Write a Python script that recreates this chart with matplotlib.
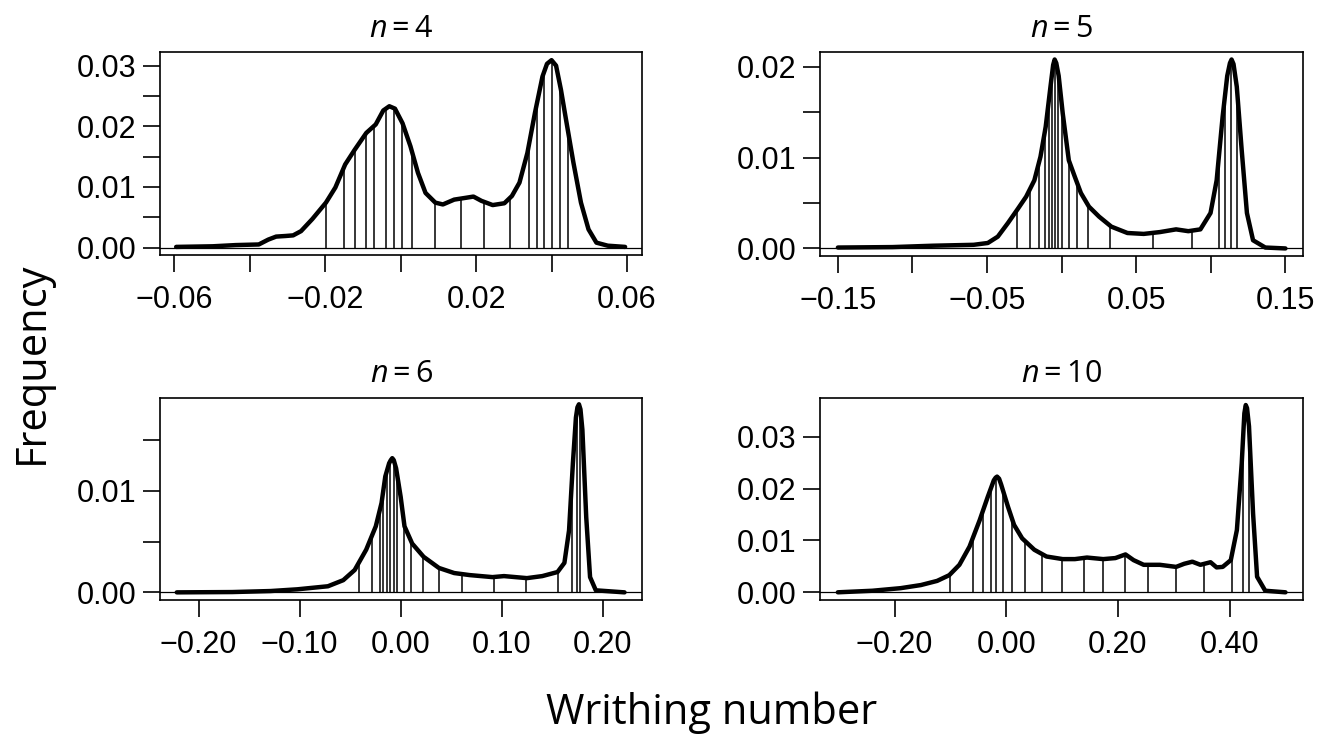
import numpy as np
import matplotlib
matplotlib.use("Agg")
import matplotlib.pyplot as plt

plt.rcParams["mathtext.fontset"] = "custom"
plt.rcParams["mathtext.rm"] = "Open Sans"
plt.rcParams["mathtext.it"] = "Open Sans:italic"

# --- Data ---

# n = 4
n4_x = [-0.0595, -0.0498, -0.0437, -0.0376, -0.0351, -0.0330, -0.0305, -0.0285,
        -0.0264, -0.0234, -0.0198, -0.0173, -0.0147, -0.0122, -0.0091, -0.0066,
        -0.0046, -0.0030, -0.0015, 0.0005, 0.0026, 0.0046, 0.0066, 0.0092,
        0.0112, 0.0142, 0.0173, 0.0193, 0.0214, 0.0244, 0.0275, 0.0295,
        0.0315, 0.0336, 0.0356, 0.0376, 0.0388, 0.0400, 0.0412, 0.0425,
        0.0437, 0.0458, 0.0478, 0.0498, 0.0519, 0.0549, 0.0595]
n4_y = [0.0001, 0.0002, 0.0004, 0.0005, 0.0013, 0.0018, 0.0019, 0.0020,
        0.0027, 0.0047, 0.0074, 0.0099, 0.0137, 0.0161, 0.0189, 0.0203,
        0.0226, 0.0233, 0.0229, 0.0205, 0.0167, 0.0123, 0.0090, 0.0074,
        0.0071, 0.0079, 0.0082, 0.0084, 0.0077, 0.0070, 0.0073, 0.0085,
        0.0107, 0.0156, 0.0222, 0.0282, 0.0303, 0.0309, 0.0300, 0.0260,
        0.0216, 0.0140, 0.0074, 0.0030, 0.0008, 0.0003, 0.0001]
n4_q = [-0.0198, -0.0150, -0.0120, -0.0091, -0.0071, -0.0039, -0.0018, 0.0003,
        0.0031, 0.0090, 0.0161, 0.0222, 0.0290, 0.0341, 0.0361, 0.0381,
        0.0402, 0.0422, 0.0443]

# n = 5
n5_x = [-0.150, -0.1133, -0.0862, -0.0590, -0.0495, -0.0428, -0.0360, -0.0292,
        -0.0238, -0.0183, -0.0142, -0.0107, -0.0075, -0.0057, -0.0047, -0.0036,
        -0.0020, 0.0007, 0.0048, 0.0088, 0.0129, 0.0183, 0.0251, 0.0333,
        0.0441, 0.0550, 0.0658, 0.0767, 0.0849, 0.0930, 0.0998, 0.1039,
        0.1079, 0.1110, 0.1128, 0.1139, 0.1152, 0.1174, 0.1207, 0.1242,
        0.1283, 0.1365, 0.150]
n5_y = [0.0001, 0.00015, 0.0003, 0.0004, 0.0006, 0.0013, 0.0028, 0.0044,
        0.0057, 0.0075, 0.0101, 0.0134, 0.0178, 0.0202, 0.0208, 0.0204,
        0.0190, 0.0149, 0.0097, 0.0079, 0.0061, 0.0046, 0.0035, 0.0024,
        0.0017, 0.0016, 0.0018, 0.0021, 0.0019, 0.0021, 0.0039, 0.0075,
        0.0145, 0.0190, 0.0204, 0.0208, 0.0203, 0.0178, 0.0108, 0.0039,
        0.0009, 0.0001, 0.0000]
n5_q = [-0.0297, -0.0210, -0.0151, -0.0115, -0.0088, -0.0066, -0.0047, -0.0026,
        0.0001, 0.0048, 0.0102, 0.0178, 0.0324, 0.0612, 0.0876, 0.1052,
        0.1098, 0.1134, 0.1174]

# n = 6
n6_x = [-0.2216, -0.1667, -0.1288, -0.1023, -0.0720, -0.0568, -0.0455, -0.0341,
        -0.0246, -0.0189, -0.0152, -0.0114, -0.0098, -0.0083, -0.0068, -0.0045,
        0.0000, 0.0038, 0.0114, 0.0227, 0.0379, 0.0530, 0.0682, 0.0795,
        0.0909, 0.1023, 0.1136, 0.1250, 0.1402, 0.1553, 0.1621, 0.1667,
        0.1705, 0.1735, 0.1750, 0.1765, 0.1780, 0.1799, 0.1837, 0.1875,
        0.1932, 0.2216]
n6_y = [0.0, 0.00003, 0.00013, 0.0003, 0.0006, 0.0012, 0.0022, 0.0042,
        0.0065, 0.0088, 0.0114, 0.0127, 0.0130, 0.0132, 0.0130, 0.0122,
        0.0094, 0.0065, 0.0048, 0.0035, 0.0024, 0.0019, 0.0017, 0.0016,
        0.0015, 0.0016, 0.0015, 0.0014, 0.0016, 0.0020, 0.0029, 0.0061,
        0.0127, 0.0172, 0.0182, 0.0185, 0.0180, 0.0160, 0.0074, 0.0015,
        0.0002, 0.0]
n6_q = [-0.0409, -0.0284, -0.0208, -0.0170, -0.0133, -0.0106, -0.0068, -0.0038,
        0.0038, 0.0106, 0.0220, 0.0379, 0.0606, 0.0920, 0.1242, 0.1553,
        0.1697, 0.1742, 0.1780]

# n = 10
n10_x = [-0.3016, -0.2399, -0.1891, -0.1528, -0.1238, -0.1021, -0.0839, -0.0658,
         -0.0476, -0.0331, -0.0222, -0.0190, -0.0164, -0.0128, -0.0092, 0.0031,
         0.0140, 0.0285, 0.0503, 0.0721, 0.1011, 0.1229, 0.1446, 0.1737,
         0.1954, 0.2136, 0.2281, 0.2462, 0.2752, 0.3042, 0.3188, 0.3333,
         0.3478, 0.3659, 0.3768, 0.3877, 0.4022, 0.4131, 0.4218, 0.4265,
         0.4290, 0.4313, 0.4348, 0.4421, 0.4493, 0.4639, 0.5001]
n10_y = [0.0, 0.0003, 0.0008, 0.0014, 0.0022, 0.0033, 0.0053, 0.0088,
         0.0139, 0.0184, 0.0216, 0.0221, 0.0223, 0.0219, 0.0208, 0.0165,
         0.0130, 0.0104, 0.0082, 0.0069, 0.0064, 0.0064, 0.0067, 0.0064,
         0.0066, 0.0073, 0.0062, 0.0053, 0.0053, 0.0049, 0.0055, 0.0059,
         0.0053, 0.0058, 0.0048, 0.0049, 0.0062, 0.0120, 0.0249, 0.0345,
         0.0361, 0.0355, 0.0320, 0.0152, 0.0030, 0.0003, 0.0]
n10_q = [-0.0999, -0.0600, -0.0411, -0.0280, -0.0186, -0.0063, 0.0104, 0.0343,
         0.0648, 0.0996, 0.1388, 0.1736, 0.2135, 0.2535, 0.3042, 0.3536,
         0.4036, 0.4240, 0.4348]

PANELS = [
    {"title": r"$n = 4$", "x": n4_x, "y": n4_y, "q": n4_q,
     "xlim": (-0.0637, 0.0639), "ylim": (-0.00124, 0.03224),
     "xmaj": [-0.06, -0.02, 0.02, 0.06], "xlab": ["\u22120.06", "\u22120.02", "0.02", "0.06"],
     "xmin": [-0.04, 0.0, 0.04],
     "ymaj": [0.0, 0.01, 0.02, 0.03], "ylab": ["0.00", "0.01", "0.02", "0.03"],
     "ymin": [0.005, 0.015, 0.025],
     "pos": [0.1210, 0.6535, 0.3633, 0.2758]},
    {"title": r"$n = 5$", "x": n5_x, "y": n5_y, "q": n5_q,
     "xlim": (-0.1617, 0.1617), "ylim": (-0.00083, 0.02163),
     "xmaj": [-0.15, -0.05, 0.05, 0.15], "xlab": ["\u22120.15", "\u22120.05", "0.05", "0.15"],
     "xmin": [-0.10, 0.0, 0.10],
     "ymaj": [0.0, 0.01, 0.02], "ylab": ["0.00", "0.01", "0.02"],
     "ymin": [0.005, 0.015],
     "pos": [0.6192, 0.6522, 0.3641, 0.2772]},
    {"title": r"$n = 6$", "x": n6_x, "y": n6_y, "q": n6_q,
     "xlim": (-0.2379, 0.2394), "ylim": (-0.00075, 0.01915),
     "xmaj": [-0.2, -0.1, 0.0, 0.1, 0.2],
     "xlab": ["\u22120.20", "\u22120.10", "0.00", "0.10", "0.20"],
     "xmin": [],
     "ymaj": [0.0, 0.01], "ylab": ["0.00", "0.01"],
     "ymin": [0.005, 0.015],
     "pos": [0.1210, 0.1848, 0.3639, 0.2749]},
    {"title": r"$n = 10$", "x": n10_x, "y": n10_y, "q": n10_q,
     "xlim": (-0.3328, 0.5313), "ylim": (-0.00148, 0.03752),
     "xmaj": [-0.2, 0.0, 0.2, 0.4], "xlab": ["\u22120.20", "0.00", "0.20", "0.40"],
     "xmin": [],
     "ymaj": [0.0, 0.01, 0.02, 0.03], "ylab": ["0.00", "0.01", "0.02", "0.03"],
     "ymin": [],
     "pos": [0.6192, 0.1848, 0.3641, 0.2749]},
]

TICK_FONT = "Liberation Sans"
LABEL_FONT = "Open Sans"

fig = plt.figure(figsize=(13.25, 7.36), dpi=100)

for p in PANELS:
    ax = fig.add_axes(p["pos"])
    cx = np.array(p["x"])
    cy = np.array(p["y"])
    q = np.array(p["q"])

    # zero line, quantile drop lines, density curve
    ax.axhline(0, color="black", lw=0.9, zorder=1)
    ax.vlines(q, 0, np.interp(q, cx, cy), color="black", lw=1.1, zorder=2)
    ax.plot(cx, cy, color="black", lw=3.2, solid_capstyle="round",
            solid_joinstyle="round", zorder=3)

    ax.set_xlim(*p["xlim"])
    ax.set_ylim(*p["ylim"])

    ax.set_xticks(p["xmaj"])
    ax.set_xticklabels(p["xlab"], fontsize=22, family=TICK_FONT)
    ax.set_xticks(p["xmin"], minor=True)
    ax.set_yticks(p["ymaj"])
    ax.set_yticklabels(p["ylab"], fontsize=22, family=TICK_FONT)
    ax.set_yticks(p["ymin"], minor=True)

    ax.tick_params(axis="both", which="both", direction="out", length=12.5,
                   width=1.2, color="black")
    ax.tick_params(axis="x", which="major", pad=9)
    ax.tick_params(axis="y", which="major", pad=5)
    for s in ax.spines.values():
        s.set_linewidth(1.2)

    ax.set_title(p["title"], fontsize=22, pad=11)

fig.text(0.537, 0.016, "Writhing number", fontsize=30, family=LABEL_FONT,
         ha="center", va="baseline")
fig.text(0.008, 0.507, "Frequency", fontsize=30, family=LABEL_FONT,
         rotation=90, ha="left", va="center")

fig.savefig("out.png", dpi=100, facecolor="white")
